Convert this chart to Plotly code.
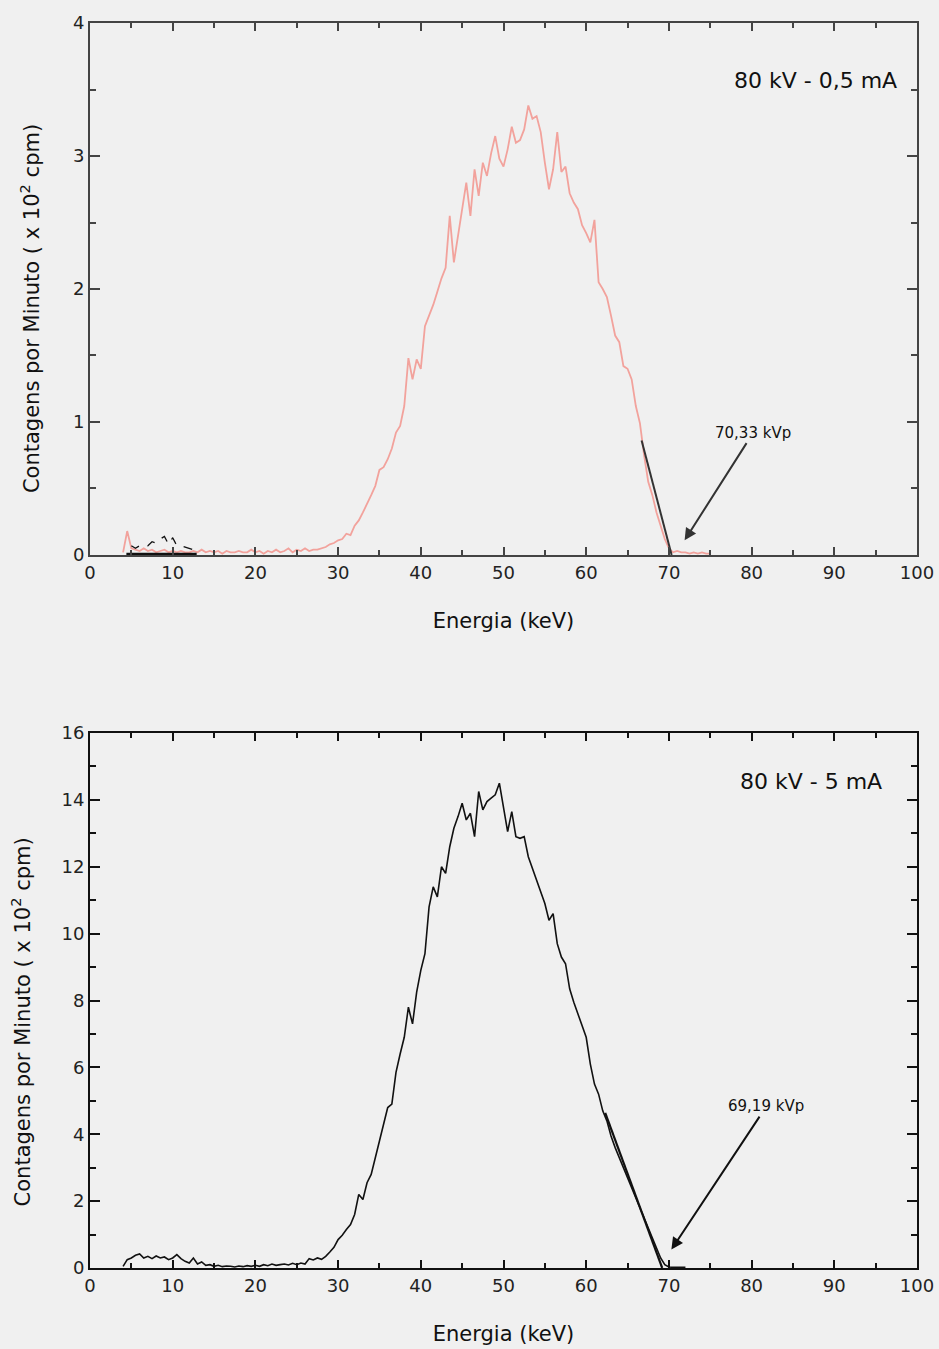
import numpy as np
import plotly.graph_objects as go

# ---- spectrum 1: 80 kV - 0,5 mA (counts x 10^2 cpm), channels every 0.5 keV from 4 keV
top_start, top_step = 4.0, 0.5
top_counts = [
    0.02, 0.18, 0.05, 0.04, 0.03, 0.05, 0.03, 0.04, 0.02, 0.03,
    0.04, 0.02, 0.03, 0.02, 0.03, 0.02, 0.02, 0.03, 0.02, 0.04,
    0.02, 0.03, 0.02, 0.03, 0.01, 0.03, 0.02, 0.02, 0.03, 0.02,
    0.02, 0.04, 0.02, 0.03, 0.01, 0.03, 0.02, 0.04, 0.02, 0.03,
    0.05, 0.02, 0.04, 0.03, 0.05, 0.03, 0.04, 0.04, 0.05, 0.06,
    0.08, 0.09, 0.11, 0.12, 0.16, 0.15, 0.22, 0.26, 0.32, 0.38,
    0.45, 0.52, 0.64, 0.66, 0.72, 0.80, 0.92, 0.97, 1.12, 1.48,
    1.32, 1.47, 1.40, 1.72, 1.80, 1.88, 1.98, 2.08, 2.16, 2.55,
    2.20, 2.40, 2.62, 2.80, 2.55, 2.90, 2.70, 2.95, 2.85, 3.02,
    3.15, 2.98, 2.92, 3.05, 3.22, 3.10, 3.12, 3.20, 3.38, 3.28,
    3.30, 3.18, 2.95, 2.75, 2.90, 3.18, 2.88, 2.92, 2.72, 2.65,
    2.60, 2.48, 2.42, 2.35, 2.52, 2.05, 2.00, 1.94, 1.80, 1.65,
    1.60, 1.42, 1.40, 1.32, 1.12, 0.99, 0.75, 0.55, 0.45, 0.32,
    0.22, 0.12, 0.05, 0.02, 0.03, 0.02, 0.02, 0.01, 0.02, 0.01,
    0.02, 0.01, 0.01,
]

# low-energy background trace drawn in black on the first spectrum
bkg_energy = [5.0, 5.5, 6.0, 6.5, 7.0, 7.5, 8.0, 8.5, 9.0, 9.5, 10.0, 10.5, 11.0, 11.5, 12.0, 12.5]
bkg_counts = [0.07, 0.05, 0.07, 0.08, 0.07, 0.10, 0.09, 0.12, 0.14, 0.08, 0.13, 0.07, 0.07, 0.06, 0.05, 0.04]

# ---- spectrum 2: 80 kV - 5 mA
bot_start, bot_step = 4.0, 0.5
bot_counts = [
    0.05, 0.25, 0.30, 0.38, 0.42, 0.30, 0.35, 0.28, 0.36, 0.30,
    0.33, 0.25, 0.30, 0.40, 0.28, 0.20, 0.15, 0.30, 0.12, 0.18,
    0.08, 0.10, 0.05, 0.08, 0.04, 0.06, 0.05, 0.03, 0.06, 0.04,
    0.07, 0.05, 0.08, 0.05, 0.10, 0.07, 0.12, 0.08, 0.10, 0.12,
    0.09, 0.14, 0.10, 0.15, 0.12, 0.28, 0.24, 0.30, 0.26, 0.35,
    0.48, 0.62, 0.85, 0.98, 1.15, 1.30, 1.60, 2.20, 2.05, 2.55,
    2.80, 3.35, 3.80, 4.30, 4.80, 4.90, 5.85, 6.40, 6.90, 7.80,
    7.30, 8.25, 8.90, 9.40, 10.80, 11.40, 11.10, 12.00, 11.80, 12.60,
    13.15, 13.50, 13.90, 13.40, 13.60, 12.90, 14.25, 13.70, 13.95, 14.05,
    14.15, 14.50, 13.80, 13.05, 13.65, 12.90, 12.85, 12.90, 12.30, 11.95,
    11.55, 11.20, 10.90, 10.40, 10.60, 9.70, 9.30, 9.10, 8.35, 7.95,
    7.60, 7.25, 6.90, 6.10, 5.50, 5.20, 4.70, 4.40, 3.95, 3.60,
    3.30, 3.00, 2.70, 2.40, 2.15, 1.85, 1.55, 1.25, 0.95, 0.60,
    0.30, 0.10, 0.03, 0.02, 0.02, 0.02, 0.02,
]

# linear fits of the high-energy edge, extrapolated to zero counts (kVp)
top_fit_start = (66.7, 0.86)
top_kvp = 70.33
bot_fit_start = (62.3, 4.64)
bot_kvp = 69.19

top_energy = top_start + top_step * np.arange(len(top_counts))
bot_energy = bot_start + bot_step * np.arange(len(bot_counts))

BG = "#f0f0f0"
FONT = "DejaVu Sans"

fig = go.Figure()

fig.add_trace(go.Scatter(x=top_energy, y=top_counts, mode="lines",
                         line=dict(color="#f2a29c", width=1.8),
                         xaxis="x", yaxis="y", showlegend=False))
fig.add_trace(go.Scatter(x=bkg_energy, y=bkg_counts, mode="lines",
                         line=dict(color="#111111", width=1.3, dash="dash"),
                         xaxis="x", yaxis="y", showlegend=False))
fig.add_trace(go.Scatter(x=[bkg_energy[0] - 0.6, bkg_energy[-1] + 0.4], y=[0.005, 0.005], mode="lines",
                         line=dict(color="#111111", width=3),
                         xaxis="x", yaxis="y", showlegend=False))
fig.add_trace(go.Scatter(x=[top_fit_start[0], top_kvp], y=[top_fit_start[1], 0], mode="lines",
                         line=dict(color="#333333", width=2),
                         xaxis="x", yaxis="y", showlegend=False))

fig.add_trace(go.Scatter(x=bot_energy, y=bot_counts, mode="lines",
                         line=dict(color="#111111", width=1.6),
                         xaxis="x2", yaxis="y2", showlegend=False))
fig.add_trace(go.Scatter(x=[bot_fit_start[0], bot_kvp], y=[bot_fit_start[1], 0], mode="lines",
                         line=dict(color="#111111", width=2.2),
                         xaxis="x2", yaxis="y2", showlegend=False))

tickfont = dict(family=FONT, size=18, color="#222222")
titlefont = dict(family=FONT, size=21, color="#111111")


def xaxis_style(anchor, color):
    return dict(
        range=[0, 100], tickvals=list(range(0, 101, 10)), anchor=anchor, domain=[0, 1],
        showline=True, linecolor=color, linewidth=2, mirror="allticks",
        ticks="inside", ticklen=8, tickwidth=2, tickcolor=color,
        minor=dict(dtick=5, ticks="inside", ticklen=5, tickwidth=2, tickcolor=color),
        showgrid=False, zeroline=False, tickfont=tickfont,
        title=dict(text="Energia (keV)", font=titlefont, standoff=32),
        automargin=False,
    )


def yaxis_style(anchor, domain, rng, dtick, minor, color):
    return dict(
        range=rng, dtick=dtick, anchor=anchor, domain=domain,
        showline=True, linecolor=color, linewidth=2, mirror="allticks",
        ticks="inside", ticklen=10, tickwidth=2, tickcolor=color,
        minor=dict(dtick=minor, ticks="inside", ticklen=6, tickwidth=2, tickcolor=color),
        showgrid=False, zeroline=False, tickfont=tickfont,
    )


fig.update_layout(
    width=939, height=1349,
    margin=dict(l=90, r=22, t=23, b=81),
    paper_bgcolor=BG, plot_bgcolor=BG,
    font=dict(family=FONT, color="#111111"),
    xaxis=xaxis_style("y", "#444444"),
    yaxis=yaxis_style("x", [0.5727, 1.0], [0, 4], 1, 0.5, "#444444"),
    xaxis2=xaxis_style("y2", "#111111"),
    yaxis2=yaxis_style("x2", [0.0, 0.4297], [0, 16], 2, 1, "#111111"),
)

annotations = [
    # panel labels
    dict(text="80 kV - 0,5 mA", x=97.8, y=3.57, xref="x", yref="y", xanchor="right", yanchor="middle",
         showarrow=False, font=dict(family=FONT, size=22, color="#111111")),
    dict(text="80 kV - 5 mA", x=96.0, y=14.55, xref="x2", yref="y2", xanchor="right", yanchor="middle",
         showarrow=False, font=dict(family=FONT, size=22, color="#111111")),
    # kVp labels with arrows pointing at the extrapolated end point
    dict(text="70,33 kVp", x=71.9, y=0.11, ax=80.2, ay=0.92, xref="x", yref="y", axref="x", ayref="y",
         showarrow=True, arrowhead=2, arrowsize=1.2, arrowwidth=2, arrowcolor="#333333", standoff=0,
         font=dict(family=FONT, size=15, color="#111111")),
    dict(text="69,19 kVp", x=70.3, y=0.55, ax=81.8, ay=4.84, xref="x2", yref="y2", axref="x2", ayref="y2",
         showarrow=True, arrowhead=2, arrowsize=1.2, arrowwidth=2, arrowcolor="#111111", standoff=0,
         font=dict(family=FONT, size=15, color="#111111")),
    # vertical axis titles
    dict(text="Contagens por Minuto ( x 10<sup>2</sup> cpm)", x=-0.0726, y=0.771, xref="paper", yref="paper",
         xanchor="center", yanchor="middle", textangle=-90,
         showarrow=False, font=titlefont),
    dict(text="Contagens por Minuto ( x 10<sup>2</sup> cpm)", x=-0.0823, y=0.198, xref="paper", yref="paper",
         xanchor="center", yanchor="middle", textangle=-90,
         showarrow=False, font=titlefont),
]
fig.update_layout(annotations=annotations)

fig.write_html("out.html")
